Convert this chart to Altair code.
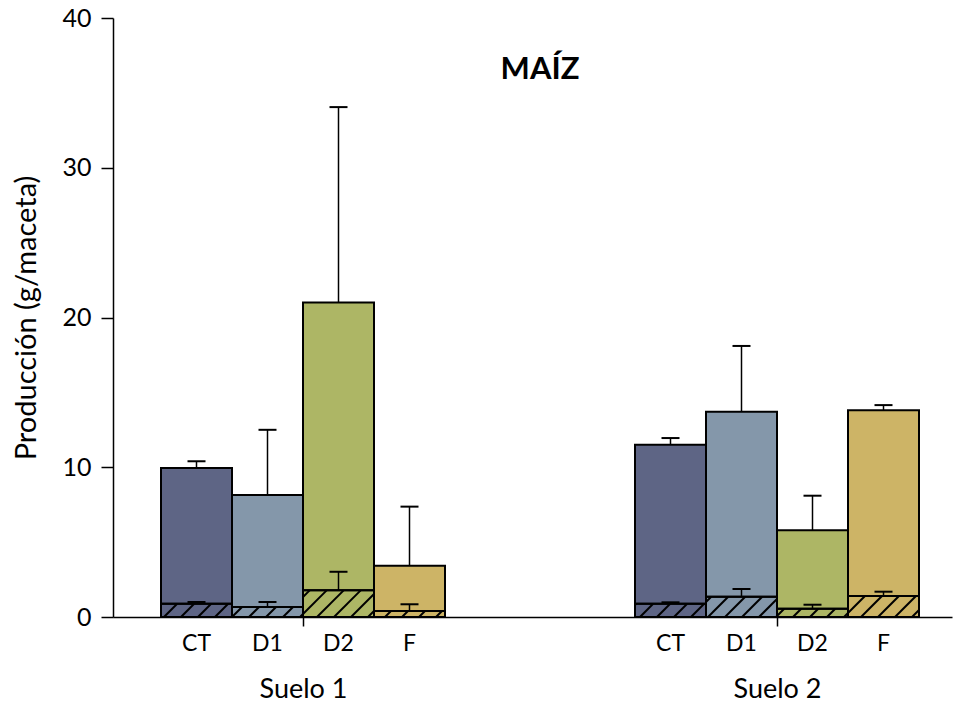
import altair as alt
import pandas as pd

# ---------------- data ----------------
treatments = ["CT", "D1", "D2", "F"]
soils = ["Suelo 1", "Suelo 2"]
colors = ["#5E6585", "#8497AA", "#ADB665", "#CDB466"]

# total production (mean) and upper error
total_s1 = [9.95, 8.15, 21.0, 3.42]
total_err_s1 = [0.45, 4.35, 13.05, 3.95]
total_s2 = [11.5, 13.7, 5.8, 13.8]
total_err_s2 = [0.45, 4.4, 2.3, 0.35]

# hatched (lower) part and its upper error
part_s1 = [0.88, 0.67, 1.78, 0.40]
part_err_s1 = [0.12, 0.33, 1.24, 0.45]
part_s2 = [0.88, 1.35, 0.55, 1.40]
part_err_s2 = [0.10, 0.52, 0.27, 0.29]

y_ticks = [0, 10, 20, 30, 40]

# ---------------- layout ----------------
W, H = 839, 599
BAR_PX = 71.0
Y_MAX = 40
X_MAX = W / BAR_PX
FIRST = 48 / BAR_PX
STEP = (635 - 161) / BAR_PX
CAP = 9 / BAR_PX
HATCH = 17.0

rows = []
for g, (tot, terr, prt, perr) in enumerate([
        (total_s1, total_err_s1, part_s1, part_err_s1),
        (total_s2, total_err_s2, part_s2, part_err_s2)]):
    for t, tr in enumerate(treatments):
        x0 = FIRST + g * STEP + t
        rows.append(dict(soil=soils[g], treat=tr, x0=x0, x1=x0 + 1, xc=x0 + 0.5,
                         ca=x0 + 0.5 - CAP, cb=x0 + 0.5 + CAP,
                         zero=0.0, total=tot[t], total_top=tot[t] + terr[t],
                         part=prt[t], part_top=prt[t] + perr[t]))
df = pd.DataFrame(rows)

# hatch lines (45 deg in pixel space) for the lower part
hl = []
for r in rows:
    Wp = BAR_PX
    Hp = r["part"] * H / Y_MAX
    x0px = r["x0"] * BAR_PX
    c = -((x0px) % HATCH) - HATCH * int(Hp / HATCH + 2)
    while c < Wp:
        ts = max(0.0, -c)
        te = min(Hp, Wp - c)
        if te > ts:
            hl.append(dict(xa=r["x0"] + (c + ts) / BAR_PX, ya=ts * Y_MAX / H,
                           xb=r["x0"] + (c + te) / BAR_PX, yb=te * Y_MAX / H))
        c += HATCH
dh = pd.DataFrame(hl)

FONT = "Lato"
YT = "Producción (g/maceta)"
xs = alt.Scale(domain=[0, X_MAX], nice=False, zero=False)
ys = alt.Scale(domain=[0, Y_MAX], nice=False)
centers = [FIRST + 2, FIRST + STEP + 2]
xaxis = alt.Axis(values=centers, labelExpr="datum.value < 5 ? 'Suelo 1' : 'Suelo 2'",
                 tickSize=9, labelPadding=50, labelFontSize=27, grid=False,
                 domainColor="black", tickColor="black", domainWidth=1.5, tickWidth=1.5,
                 labelColor="black", labelFont=FONT, title=None)
yaxis = alt.Axis(values=y_ticks, tickSize=12, labelPadding=10, labelFontSize=25, grid=False,
                 domainColor="black", tickColor="black", domainWidth=1.5, tickWidth=1.5,
                 labelColor="black", labelFont=FONT, title=YT,
                 titleFontSize=29, titleFontWeight="normal", titleFont=FONT,
                 titleColor="black", titlePadding=20)

col = alt.Color("treat:N", scale=alt.Scale(domain=treatments, range=colors), legend=None)


def X(f):
    return alt.X(f, scale=xs, axis=xaxis, title=None)


def Y(f):
    return alt.Y(f, scale=ys, axis=yaxis, title=YT)


base = alt.Chart(df)

bars = base.mark_rect(stroke="black", strokeWidth=2).encode(
    x=X("x0:Q"), x2="x1:Q", y=Y("zero:Q"), y2="total:Q", color=col)

err_tot = base.mark_rule(color="black", strokeWidth=1.5).encode(
    x=X("xc:Q"), y=Y("total:Q"), y2="total_top:Q")
cap_tot = base.mark_rule(color="black", strokeWidth=2).encode(
    x=X("ca:Q"), x2="cb:Q", y=Y("total_top:Q"))

parts = base.mark_rect(stroke="black", strokeWidth=2).encode(
    x=X("x0:Q"), x2="x1:Q", y=Y("zero:Q"), y2="part:Q", color=col)

hatch = alt.Chart(dh).mark_rule(color="black", strokeWidth=2).encode(
    x=X("xa:Q"), x2="xb:Q", y=Y("ya:Q"), y2="yb:Q")

parts_outline = base.mark_rect(stroke="black", strokeWidth=2, fillOpacity=0).encode(
    x=X("x0:Q"), x2="x1:Q", y=Y("zero:Q"), y2="part:Q")

err_part = base.mark_rule(color="black", strokeWidth=1.5).encode(
    x=X("xc:Q"), y=Y("part:Q"), y2="part_top:Q")
cap_part = base.mark_rule(color="black", strokeWidth=2).encode(
    x=X("ca:Q"), x2="cb:Q", y=Y("part_top:Q"))

tlabels = base.mark_text(fontSize=23, font=FONT, baseline="middle", align="center",
                         color="black").encode(
    x=X("xc:Q"), y=alt.value(H + 27), text="treat:N")

title = alt.Chart(pd.DataFrame({"t": ["MAÍZ"]})).mark_text(
    fontSize=31, font=FONT, fontWeight="bold", baseline="middle", align="center",
    color="black").encode(x=alt.value(427), y=alt.value(52), text="t:N")

chart = alt.layer(bars, err_tot, cap_tot, parts, hatch, parts_outline, err_part, cap_part,
                  tlabels, title).properties(
    width=W, height=H, background="white",
    autosize=alt.AutoSizeParams(type="none"),
    padding={"left": 113, "top": 18, "right": 958 - 113 - W, "bottom": 707 - 18 - H},
).configure_view(stroke=None)

chart.save("out.html", embed_options={"renderer": "svg", "actions": False})
